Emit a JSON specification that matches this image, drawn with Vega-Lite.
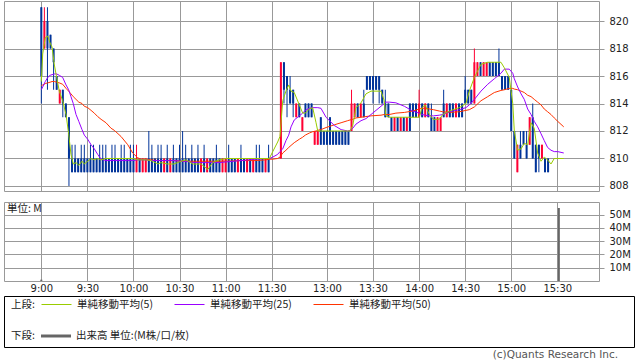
{
  "$schema": "https://vega.github.io/schema/vega-lite/v6.json",
  "padding": {"left": 3, "top": 0, "right": 0, "bottom": 0},
  "background": "white",
  "config": {
    "view": {"stroke": "#999999", "strokeWidth": 1},
    "axis": {"gridColor": "#999999", "gridOpacity": 1, "tickColor": "#999999", "domain": false, "labelFont": "DejaVu Sans", "labelFontSize": 10, "labelColor": "#222222", "title": null},
    "axisY": {"orient": "right"},
    "scale": {"continuousPadding": 0},
    "title": {"fontWeight": "normal"}
  },
  "datasets": {
    "candles": [
      {"t":0,"o":821,"h":821,"l":814,"c":816},{"t":2,"o":818,"h":821,"l":818,"c":820},{"t":4,"o":820,"h":821,"l":815,"c":818},{"t":6,"o":819,"h":819,"l":818,"c":818},{"t":8,"o":818,"h":818,"l":815,"c":817},{"t":10,"o":816,"h":816,"l":815,"c":815},{"t":12,"o":814,"h":815,"l":814,"c":815},{"t":14,"o":815,"h":815,"l":813,"c":814},{"t":16,"o":814,"h":814,"l":813,"c":813},{"t":18,"o":813,"h":813,"l":808,"c":810},{"t":20,"o":810,"h":811,"l":809,"c":809},
      {"t":22,"o":810,"h":811,"l":809,"c":809},{"t":24,"o":810,"h":810,"l":809,"c":809},{"t":26,"o":810,"h":811,"l":809,"c":809},{"t":28,"o":810,"h":811,"l":809,"c":809},{"t":30,"o":810,"h":810,"l":809,"c":809},{"t":32,"o":810,"h":811,"l":809,"c":809},{"t":34,"o":810,"h":811,"l":809,"c":809},{"t":36,"o":810,"h":810,"l":809,"c":809},{"t":38,"o":810,"h":811,"l":809,"c":809},{"t":40,"o":810,"h":811,"l":809,"c":809},
      {"t":42,"o":810,"h":811,"l":809,"c":809},{"t":44,"o":810,"h":810,"l":809,"c":809},{"t":46,"o":810,"h":811,"l":809,"c":809},{"t":48,"o":810,"h":811,"l":809,"c":809},{"t":50,"o":810,"h":810,"l":809,"c":809},{"t":52,"o":810,"h":811,"l":809,"c":809},{"t":54,"o":810,"h":811,"l":809,"c":809},{"t":56,"o":810,"h":810,"l":809,"c":809},{"t":58,"o":810,"h":811,"l":809,"c":809},{"t":60,"o":810,"h":811,"l":809,"c":809},
      {"t":62,"o":809,"h":811,"l":809,"c":810},{"t":64,"o":810,"h":810,"l":809,"c":809},{"t":66,"o":809,"h":810,"l":809,"c":810},{"t":68,"o":809,"h":810,"l":809,"c":810},{"t":70,"o":810,"h":812,"l":809,"c":809},{"t":72,"o":810,"h":811,"l":809,"c":809},{"t":74,"o":810,"h":810,"l":809,"c":809},{"t":76,"o":810,"h":811,"l":809,"c":809},{"t":78,"o":810,"h":811,"l":809,"c":809},{"t":80,"o":809,"h":810,"l":809,"c":810},
      {"t":82,"o":810,"h":811,"l":809,"c":809},{"t":84,"o":809,"h":810,"l":809,"c":810},{"t":86,"o":810,"h":811,"l":809,"c":809},{"t":88,"o":810,"h":810,"l":809,"c":809},{"t":90,"o":810,"h":811,"l":809,"c":809},{"t":92,"o":810,"h":812,"l":809,"c":809},{"t":94,"o":810,"h":811,"l":809,"c":809},{"t":96,"o":810,"h":810,"l":809,"c":809},{"t":98,"o":810,"h":811,"l":809,"c":809},{"t":100,"o":810,"h":810,"l":809,"c":809},
      {"t":102,"o":810,"h":811,"l":809,"c":809},{"t":104,"o":809,"h":810,"l":809,"c":810},{"t":106,"o":810,"h":811,"l":809,"c":809},{"t":108,"o":809,"h":810,"l":809,"c":810},{"t":110,"o":810,"h":810,"l":809,"c":809},{"t":112,"o":810,"h":810,"l":809,"c":809},{"t":114,"o":810,"h":811,"l":809,"c":809},{"t":116,"o":810,"h":810,"l":809,"c":809},{"t":118,"o":809,"h":810,"l":809,"c":810},{"t":120,"o":809,"h":810,"l":809,"c":810},
      {"t":122,"o":810,"h":811,"l":809,"c":809},{"t":124,"o":810,"h":810,"l":809,"c":809},{"t":126,"o":810,"h":810,"l":809,"c":809},{"t":128,"o":809,"h":810,"l":809,"c":810},{"t":130,"o":810,"h":811,"l":809,"c":809},{"t":132,"o":810,"h":810,"l":809,"c":809},{"t":134,"o":809,"h":810,"l":809,"c":810},{"t":136,"o":810,"h":810,"l":809,"c":809},{"t":138,"o":809,"h":810,"l":809,"c":810},{"t":140,"o":810,"h":811,"l":809,"c":809},
      {"t":142,"o":810,"h":811,"l":809,"c":809},{"t":144,"o":810,"h":810,"l":809,"c":809},{"t":146,"o":809,"h":810,"l":809,"c":810},{"t":148,"o":810,"h":811,"l":809,"c":809},
      {"t":156,"o":810,"h":817,"l":810,"c":817},{"t":158,"o":817,"h":817,"l":814,"c":815},{"t":160,"o":816,"h":816,"l":813,"c":815},{"t":162,"o":815,"h":816,"l":814,"c":814},{"t":164,"o":815,"h":815,"l":813,"c":814},{"t":166,"o":813,"h":814,"l":813,"c":814},{"t":168,"o":814,"h":814,"l":813,"c":813},{"t":170,"o":812,"h":813,"l":812,"c":813},{"t":172,"o":814,"h":814,"l":813,"c":813},{"t":174,"o":814,"h":814,"l":813,"c":813},
      {"t":176,"o":814,"h":814,"l":813,"c":813},{"t":178,"o":811,"h":812,"l":811,"c":812},{"t":180,"o":811,"h":812,"l":811,"c":812},{"t":182,"o":813,"h":813,"l":811,"c":811},{"t":184,"o":812,"h":812,"l":811,"c":811},{"t":186,"o":812,"h":812,"l":811,"c":811},{"t":188,"o":813,"h":813,"l":811,"c":811},{"t":190,"o":812,"h":812,"l":811,"c":811},{"t":192,"o":812,"h":812,"l":811,"c":811},{"t":194,"o":812,"h":812,"l":811,"c":811},
      {"t":196,"o":812,"h":812,"l":811,"c":811},{"t":198,"o":812,"h":812,"l":811,"c":811},{"t":200,"o":812,"h":812,"l":811,"c":811},{"t":202,"o":812,"h":815,"l":812,"c":814},{"t":204,"o":813,"h":814,"l":813,"c":814},{"t":206,"o":814,"h":814,"l":813,"c":813},{"t":208,"o":813,"h":814,"l":813,"c":814},{"t":210,"o":814,"h":815,"l":813,"c":813},{"t":212,"o":816,"h":816,"l":815,"c":815},{"t":214,"o":816,"h":816,"l":815,"c":815},
      {"t":216,"o":816,"h":816,"l":814,"c":815},{"t":218,"o":816,"h":816,"l":815,"c":815},{"t":220,"o":816,"h":816,"l":814,"c":815},{"t":222,"o":815,"h":815,"l":814,"c":814},{"t":224,"o":814,"h":815,"l":813,"c":813},{"t":226,"o":814,"h":814,"l":813,"c":813},{"t":228,"o":813,"h":813,"l":812,"c":812},{"t":230,"o":812,"h":813,"l":812,"c":813},{"t":232,"o":813,"h":813,"l":812,"c":812},{"t":234,"o":812,"h":813,"l":812,"c":813},
      {"t":236,"o":813,"h":813,"l":812,"c":812},{"t":238,"o":812,"h":813,"l":812,"c":813},{"t":240,"o":814,"h":814,"l":812,"c":812},{"t":242,"o":814,"h":814,"l":813,"c":813},{"t":244,"o":814,"h":814,"l":813,"c":813},{"t":246,"o":813,"h":815,"l":813,"c":814},{"t":248,"o":814,"h":814,"l":813,"c":813},{"t":250,"o":813,"h":814,"l":813,"c":814},{"t":252,"o":814,"h":814,"l":813,"c":813},{"t":254,"o":813,"h":814,"l":812,"c":812},
      {"t":256,"o":813,"h":813,"l":812,"c":812},{"t":258,"o":812,"h":813,"l":812,"c":813},{"t":260,"o":812,"h":813,"l":812,"c":813},{"t":262,"o":814,"h":815,"l":813,"c":813},{"t":264,"o":813,"h":814,"l":813,"c":814},{"t":266,"o":814,"h":814,"l":813,"c":813},{"t":268,"o":814,"h":814,"l":813,"c":813},{"t":270,"o":813,"h":814,"l":813,"c":814},{"t":272,"o":814,"h":814,"l":813,"c":813},{"t":274,"o":814,"h":814,"l":813,"c":813},
      {"t":276,"o":815,"h":816,"l":814,"c":814},{"t":278,"o":815,"h":815,"l":814,"c":814},{"t":280,"o":815,"h":815,"l":814,"c":814},{"t":282,"o":814,"h":818,"l":814,"c":817},{"t":284,"o":816,"h":817,"l":816,"c":817},{"t":286,"o":817,"h":817,"l":816,"c":816},{"t":288,"o":816,"h":817,"l":816,"c":817},{"t":290,"o":816,"h":817,"l":816,"c":817},{"t":292,"o":817,"h":817,"l":816,"c":816},{"t":294,"o":817,"h":817,"l":816,"c":816},
      {"t":296,"o":817,"h":817,"l":816,"c":816},{"t":298,"o":817,"h":818,"l":816,"c":816},{"t":300,"o":816,"h":816,"l":815,"c":815},{"t":302,"o":816,"h":816,"l":815,"c":815},{"t":304,"o":816,"h":816,"l":815,"c":815},{"t":306,"o":815,"h":815,"l":812,"c":812},{"t":308,"o":812,"h":812,"l":810,"c":810},{"t":310,"o":809,"h":811,"l":809,"c":811},{"t":312,"o":811,"h":812,"l":810,"c":810},{"t":314,"o":812,"h":812,"l":811,"c":811},
      {"t":316,"o":811,"h":812,"l":810,"c":810},{"t":318,"o":811,"h":813,"l":811,"c":813},{"t":320,"o":813,"h":814,"l":810,"c":810},{"t":322,"o":811,"h":811,"l":809,"c":809},{"t":324,"o":811,"h":811,"l":809,"c":810},{"t":326,"o":810,"h":811,"l":810,"c":811},{"t":328,"o":810,"h":810,"l":809,"c":809},{"t":330,"o":810,"h":810,"l":809,"c":809}
    ],
    "ma": [
      {"t":0,"ma5":815.6,"ma25":815.0,"ma50":815.3},{"t":0.9,"ma5":817.6,"ma25":815.2,"ma50":815.35},{"t":2.6,"ma5":818.8,"ma25":815.6,"ma50":815.45},{"t":4.2,"ma5":818.9,"ma25":815.9,"ma50":815.5},{"t":5.7,"ma5":818.4,"ma25":816.05,"ma50":815.55},{"t":7.0,"ma5":818.1,"ma25":816.1,"ma50":815.6},{"t":8.5,"ma5":816.8,"ma25":816.15,"ma50":815.6},{"t":10.0,"ma5":815.9,"ma25":816.15,"ma50":815.55},{"t":11.7,"ma5":814.9,"ma25":816.05,"ma50":815.5},{"t":13.9,"ma5":814.2,"ma25":815.9,"ma50":815.4},
      {"t":16.1,"ma5":813.2,"ma25":815.35,"ma50":815.1},{"t":17.8,"ma5":811.8,"ma25":815.0,"ma50":814.9},{"t":19.3,"ma5":810.3,"ma25":814.5,"ma50":814.7},{"t":20.8,"ma5":809.6,"ma25":814.0,"ma50":814.5},{"t":22.6,"ma5":809.7,"ma25":813.2,"ma50":814.3},{"t":24.4,"ma5":809.5,"ma25":812.7,"ma50":814.1},{"t":26.5,"ma5":809.8,"ma25":812.1,"ma50":814.0},{"t":28.0,"ma5":809.6,"ma25":811.7,"ma50":813.8},{"t":30.2,"ma5":809.8,"ma25":811.4,"ma50":813.7},{"t":32.4,"ma5":810.0,"ma25":811.0,"ma50":813.5},
      {"t":34.5,"ma5":809.9,"ma25":810.7,"ma50":813.3},{"t":36.7,"ma5":810.0,"ma25":810.3,"ma50":813.05},{"t":38.9,"ma5":809.9,"ma25":809.95,"ma50":812.85},{"t":42.1,"ma5":810.0,"ma25":809.85,"ma50":812.6},{"t":45.4,"ma5":810.0,"ma25":809.85,"ma50":812.2},{"t":47.5,"ma5":810.0,"ma25":809.85,"ma50":812.05},{"t":51.9,"ma5":810.0,"ma25":809.85,"ma50":811.6},{"t":56.3,"ma5":810.0,"ma25":809.85,"ma50":811.0},{"t":59.5,"ma5":810.0,"ma25":809.85,"ma50":810.4},{"t":62.8,"ma5":809.9,"ma25":809.9,"ma50":810.05},
      {"t":64.9,"ma5":809.9,"ma25":809.9,"ma50":809.95},{"t":68.2,"ma5":809.9,"ma25":809.9,"ma50":809.95},{"t":71.4,"ma5":809.85,"ma25":809.85,"ma50":809.9},{"t":76.0,"ma5":809.6,"ma25":809.85,"ma50":809.85},{"t":77.9,"ma5":809.7,"ma25":809.85,"ma50":809.85},{"t":82.3,"ma5":809.6,"ma25":809.85,"ma50":809.85},{"t":86.4,"ma5":809.6,"ma25":809.85,"ma50":809.85},{"t":91.0,"ma5":809.8,"ma25":809.8,"ma50":809.8},{"t":94.2,"ma5":809.9,"ma25":809.8,"ma50":809.8},{"t":98.8,"ma5":809.6,"ma25":809.7,"ma50":809.8},
      {"t":104.0,"ma5":809.6,"ma25":809.7,"ma50":809.8},{"t":108.4,"ma5":809.2,"ma25":809.7,"ma50":809.8},{"t":111.6,"ma5":809.7,"ma25":809.7,"ma50":809.8},{"t":115.7,"ma5":809.9,"ma25":809.7,"ma50":809.8},{"t":120.3,"ma5":810.0,"ma25":809.75,"ma50":809.8},{"t":130.0,"ma5":810.0,"ma25":809.85,"ma50":809.85},{"t":139.8,"ma5":810.0,"ma25":809.95,"ma50":809.85},{"t":146.3,"ma5":810.0,"ma25":810.0,"ma50":809.9},{"t":148.5,"ma5":810.0,"ma25":810.0,"ma50":809.95},{"t":150.7,"ma5":810.5,"ma25":810.1,"ma50":809.95},
      {"t":153.9,"ma5":811.2,"ma25":810.3,"ma50":810.0},{"t":155.4,"ma5":811.6,"ma25":810.5,"ma50":810.1},{"t":157.2,"ma5":814.2,"ma25":810.7,"ma50":810.4},{"t":159.3,"ma5":814.9,"ma25":811.3,"ma50":810.6},{"t":161.1,"ma5":815.35,"ma25":811.7,"ma50":810.8},{"t":162.6,"ma5":814.9,"ma25":812.3,"ma50":810.95},{"t":164.7,"ma5":814.8,"ma25":812.8,"ma50":811.15},{"t":168.0,"ma5":813.9,"ma25":813.1,"ma50":811.4},{"t":170.2,"ma5":813.3,"ma25":813.3,"ma50":811.55},{"t":171.9,"ma5":813.3,"ma25":813.5,"ma50":811.7},
      {"t":174.5,"ma5":813.6,"ma25":813.65,"ma50":811.85},{"t":176.7,"ma5":813.7,"ma25":813.7,"ma50":811.95},{"t":178.9,"ma5":812.6,"ma25":813.7,"ma50":812.0},{"t":180.0,"ma5":812.0,"ma25":813.7,"ma50":812.05},{"t":182.1,"ma5":812.0,"ma25":813.65,"ma50":812.1},{"t":185.4,"ma5":812.0,"ma25":813.0,"ma50":812.25},{"t":190.8,"ma5":812.0,"ma25":812.4,"ma50":812.45},{"t":195.2,"ma5":812.0,"ma25":812.1,"ma50":812.6},{"t":199.5,"ma5":812.0,"ma25":812.0,"ma50":812.75},{"t":201.0,"ma5":812.0,"ma25":812.05,"ma50":812.8},
      {"t":202.8,"ma5":812.4,"ma25":812.2,"ma50":812.85},{"t":204.9,"ma5":813.7,"ma25":812.5,"ma50":812.95},{"t":208.2,"ma5":814.05,"ma25":812.75,"ma50":813.0},{"t":211.4,"ma5":814.7,"ma25":812.9,"ma50":813.05},{"t":214.7,"ma5":814.9,"ma25":813.2,"ma50":813.1},{"t":221.2,"ma5":814.9,"ma25":813.8,"ma50":813.15},{"t":223.3,"ma5":814.2,"ma25":814.0,"ma50":813.2},{"t":224.4,"ma5":813.1,"ma25":814.1,"ma50":813.2},{"t":226.6,"ma5":813.0,"ma25":814.1,"ma50":813.2},{"t":230.9,"ma5":813.0,"ma25":814.05,"ma50":813.3},
      {"t":236.4,"ma5":813.0,"ma25":813.8,"ma50":813.35},{"t":241.8,"ma5":813.0,"ma25":813.45,"ma50":813.45},{"t":246.1,"ma5":813.0,"ma25":813.3,"ma50":813.6},{"t":247.9,"ma5":813.7,"ma25":813.2,"ma50":813.65},{"t":249.9,"ma5":813.9,"ma25":813.15,"ma50":813.65},{"t":252.7,"ma5":813.2,"ma25":813.1,"ma50":813.6},{"t":255.3,"ma5":812.85,"ma25":813.1,"ma50":813.55},{"t":259.2,"ma5":812.85,"ma25":813.15,"ma50":813.45},{"t":261.4,"ma5":813.2,"ma25":813.2,"ma50":813.4},{"t":265.7,"ma5":813.45,"ma25":813.4,"ma50":813.35},
      {"t":272.2,"ma5":813.7,"ma25":813.55,"ma50":813.4},{"t":276.5,"ma5":814.0,"ma25":813.7,"ma50":813.5},{"t":278.7,"ma5":814.9,"ma25":813.9,"ma50":813.55},{"t":282.0,"ma5":815.9,"ma25":814.3,"ma50":813.75},{"t":286.3,"ma5":816.85,"ma25":814.9,"ma50":814.2},{"t":290.7,"ma5":817.0,"ma25":815.4,"ma50":814.5},{"t":295.0,"ma5":817.0,"ma25":815.8,"ma50":814.8},{"t":299.3,"ma5":817.0,"ma25":816.2,"ma50":814.95},{"t":301.5,"ma5":816.6,"ma25":816.5,"ma50":815.0},{"t":304.7,"ma5":815.9,"ma25":816.5,"ma50":815.1},
      {"t":307.0,"ma5":814.0,"ma25":816.2,"ma50":815.1},{"t":308.0,"ma5":812.0,"ma25":815.8,"ma50":815.05},{"t":310.2,"ma5":810.6,"ma25":815.2,"ma50":815.0},{"t":312.4,"ma5":810.7,"ma25":814.7,"ma50":814.9},{"t":314.5,"ma5":811.1,"ma25":814.3,"ma50":814.8},{"t":316.7,"ma5":811.0,"ma25":813.6,"ma50":814.6},{"t":318.9,"ma5":812.6,"ma25":813.2,"ma50":814.5},{"t":321.0,"ma5":812.2,"ma25":812.7,"ma50":814.3},{"t":323.2,"ma5":810.4,"ma25":812.3,"ma50":814.1},{"t":325.4,"ma5":809.8,"ma25":811.8,"ma50":813.9},
      {"t":327.5,"ma5":810.1,"ma25":811.3,"ma50":813.6},{"t":329.7,"ma5":809.9,"ma25":810.8,"ma50":813.4},{"t":331.9,"ma5":809.6,"ma25":810.6,"ma50":813.2},{"t":334.0,"ma5":810.0,"ma25":810.5,"ma50":812.95},{"t":336.3,"ma5":810.0,"ma25":810.5,"ma50":812.7},{"t":340.2,"ma5":810.0,"ma25":810.4,"ma50":812.3}
    ],
    "vol": [
      {"t":0,"v":1},{"t":337,"v":55}
    ]
  },
  "spacing": 11,
  "bounds": "flush",
  "vconcat": [
    {
      "width": 595,
      "height": 190,
      "layer": [
        {
          "data": {"name": "candles"},
          "mark": {"type": "rule", "strokeWidth": 1},
          "encoding": {
            "x": {"field": "t", "type": "quantitative", "scale": {"domain": [-24.3, 363.15], "nice": false, "zero": false, "padding": 0},
                  "axis": {"values": [0,30,60,90,120,150,186,216,246,276,306,336], "labels": false, "ticks": false, "tickSize": 0, "grid": true, "title": null}},
            "y": {"field": "l", "type": "quantitative", "scale": {"domain": [807.636, 821.455], "nice": false, "zero": false, "padding": 0},
                  "axis": {"orient": "right", "values": [808,810,812,814,816,818,820], "labelOverlap": false, "grid": true, "tickSize": 5, "labelPadding": 5, "title": null}},
            "y2": {"field": "h"},
            "color": {"condition": {"test": "datum.c < datum.o", "value": "#003399"}, "value": "#ff0033"}
          }
        },
        {
          "data": {"name": "candles"},
          "mark": {"type": "bar", "width": 2},
          "encoding": {
            "x": {"field": "t", "type": "quantitative", "axis": {"values": [0,30,60,90,120,150,186,216,246,276,306,336], "labels": false, "ticks": false, "tickSize": 0, "grid": true, "title": null}},
            "y": {"field": "o", "type": "quantitative", "axis": {"orient": "right", "values": [808,810,812,814,816,818,820], "labelOverlap": false, "grid": true, "tickSize": 5, "labelPadding": 5, "title": null}},
            "y2": {"field": "c"},
            "color": {"condition": {"test": "datum.c < datum.o", "value": "#003399"}, "value": "#ff0033"}
          }
        },
        {
          "data": {"name": "ma"},
          "mark": {"type": "line", "strokeWidth": 1},
          "encoding": {
            "x": {"field": "t", "type": "quantitative", "axis": {"values": [0,30,60,90,120,150,186,216,246,276,306,336], "labels": false, "ticks": false, "tickSize": 0, "grid": true, "title": null}},
            "y": {"field": "ma50", "type": "quantitative", "axis": {"orient": "right", "values": [808,810,812,814,816,818,820], "labelOverlap": false, "grid": true, "tickSize": 5, "labelPadding": 5, "title": null}},
            "stroke": {"datum": "単純移動平均(50)",
              "scale": {"domain": ["単純移動平均(5)", "単純移動平均(25)", "単純移動平均(50)"], "range": ["#99cc00", "#9900ff", "#ff3300"]},
              "legend": {"title": "上段:", "orient": "none", "legendX": 7, "legendY": 288, "direction": "horizontal",
                "titleOrient": "left", "titleAnchor": "middle", "titleBaseline": "top", "titlePadding": 6,
                "titleFont": "Noto Sans CJK JP", "titleFontSize": 10.5, "titleFontWeight": "normal", "titleColor": "#222222",
                "labelFont": "Noto Sans CJK JP", "labelFontSize": 10.5, "labelColor": "#222222", "labelOffset": 5,
                "symbolType": "stroke", "symbolSize": 900, "symbolStrokeWidth": 1, "columnPadding": 19, "padding": 0}}
          }
        },
        {
          "data": {"name": "ma"},
          "mark": {"type": "line", "strokeWidth": 1},
          "encoding": {
            "x": {"field": "t", "type": "quantitative", "axis": {"values": [0,30,60,90,120,150,186,216,246,276,306,336], "labels": false, "ticks": false, "tickSize": 0, "grid": true, "title": null}},
            "y": {"field": "ma25", "type": "quantitative", "axis": {"orient": "right", "values": [808,810,812,814,816,818,820], "labelOverlap": false, "grid": true, "tickSize": 5, "labelPadding": 5, "title": null}},
            "stroke": {"datum": "単純移動平均(25)"}
          }
        },
        {
          "data": {"name": "ma"},
          "mark": {"type": "line", "strokeWidth": 1},
          "encoding": {
            "x": {"field": "t", "type": "quantitative", "axis": {"values": [0,30,60,90,120,150,186,216,246,276,306,336], "labels": false, "ticks": false, "tickSize": 0, "grid": true, "title": null}},
            "y": {"field": "ma5", "type": "quantitative", "axis": {"orient": "right", "values": [808,810,812,814,816,818,820], "labelOverlap": false, "grid": true, "tickSize": 5, "labelPadding": 5, "title": null}},
            "stroke": {"datum": "単純移動平均(5)"}
          }
        }
      ]
    },
    {
      "spacing": 15,
      "bounds": "flush",
      "vconcat": [
        {
          "width": 595,
          "height": 79,
          "layer": [
            {
              "data": {"name": "vol"},
              "mark": {"type": "bar", "width": 2},
              "encoding": {
                "x": {"field": "t", "type": "quantitative", "scale": {"domain": [-24.3, 363.15], "nice": false, "zero": false, "padding": 0},
                      "axis": {"values": [0,30,60,90,120,150,186,216,246,276,306,336], "grid": true, "ticks": false, "tickSize": 0, "labelPadding": 2, "labelFlush": false, "labelOverlap": false, "title": null,
                               "labelExpr": "floor((datum.value < 170 ? 540 + datum.value : 594 + datum.value) / 60) + ':' + ((datum.value < 170 ? 540 + datum.value : 594 + datum.value) % 60 < 10 ? '00' : '30')"}},
                "y": {"field": "v", "type": "quantitative", "scale": {"domain": [0, 59.5], "nice": false, "padding": 0},
                      "axis": {"orient": "right", "values": [10,20,30,40,50], "labelOverlap": false, "labelExpr": "datum.value + 'M'", "grid": true, "tickSize": 5, "labelPadding": 5, "title": null}},
                "fill": {"datum": "出来高 単位:(M株/口/枚)", "scale": {"range": ["#666666"]},
                  "legend": {"title": "下段:", "orient": "none", "legendX": 7, "legendY": 320, "direction": "horizontal",
                    "titleOrient": "left", "titleAnchor": "middle", "titleBaseline": "top", "titlePadding": 6,
                    "titleFont": "Noto Sans CJK JP", "titleFontSize": 10.5, "titleFontWeight": "normal", "titleColor": "#222222",
                    "labelFont": "Noto Sans CJK JP", "labelFontSize": 10.5, "labelColor": "#222222", "labelOffset": 5,
                    "symbolType": "M-1,-0.1H1V0.1H-1Z", "symbolSize": 900, "symbolStrokeWidth": 0, "padding": 0}}
              }
            },
            {
              "data": {"values": [{"label": "単位: M"}]},
              "mark": {"type": "text", "align": "left", "baseline": "top", "dx": 3, "dy": 2, "font": "Noto Sans CJK JP", "fontSize": 10.5, "color": "#222222"},
              "encoding": {
                "x": {"datum": -24.3, "type": "quantitative",
                      "axis": {"values": [0,30,60,90,120,150,186,216,246,276,306,336], "grid": true, "ticks": false, "tickSize": 0, "labelPadding": 2, "labelFlush": false, "labelOverlap": false, "title": null,
                               "labelExpr": "floor((datum.value < 170 ? 540 + datum.value : 594 + datum.value) / 60) + ':' + ((datum.value < 170 ? 540 + datum.value : 594 + datum.value) % 60 < 10 ? '00' : '30')"}},
                "y": {"datum": 59.5, "type": "quantitative",
                      "axis": {"orient": "right", "values": [10,20,30,40,50], "labelOverlap": false, "labelExpr": "datum.value + 'M'", "grid": true, "tickSize": 5, "labelPadding": 5, "title": null}},
                "text": {"field": "label"}
              }
            }
          ]
        },
        {
          "width": 630,
          "height": 51,
          "view": {"stroke": "#000000"},
          "title": {"text": "(c)Quants Research Inc.", "orient": "bottom", "anchor": "end", "offset": 3, "dx": -16, "fontSize": 10.5, "fontWeight": "normal", "font": "DejaVu Sans", "color": "#555555"},
          "data": {"values": [{"note": ""}]},
          "mark": {"type": "text"},
          "encoding": {"text": {"field": "note"}}
        }
      ]
    }
  ]
}
